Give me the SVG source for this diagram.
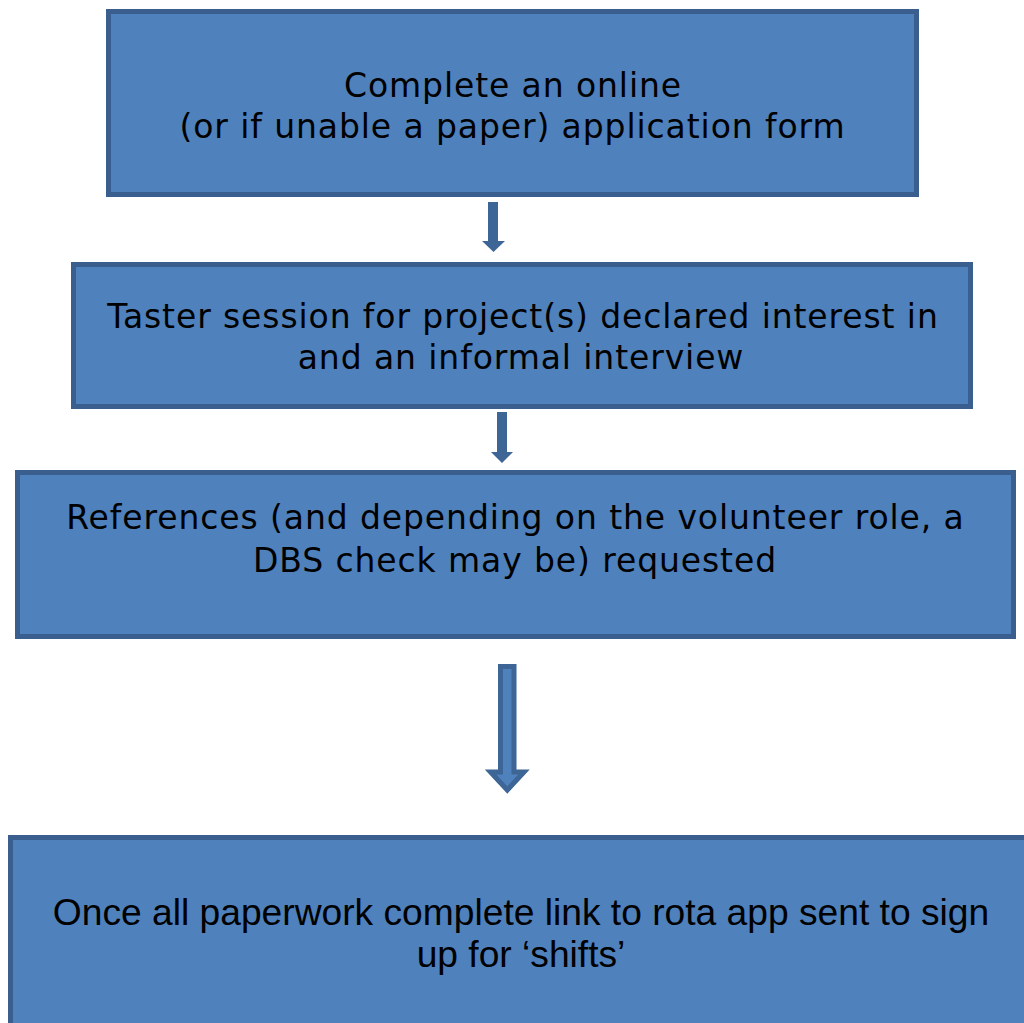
<svg xmlns="http://www.w3.org/2000/svg" width="1024" height="1023" viewBox="0 0 1024 1023">
<style>
.box{fill:#4f81bd;stroke:#3a5f8e;stroke-width:5}
.t{font-family:"DejaVu Sans",Verdana,sans-serif;font-size:33px;letter-spacing:0.9px;fill:#000;text-anchor:middle}
.a{font-family:"Liberation Sans",Arial,sans-serif;font-size:37.2px;fill:#000;text-anchor:middle}
.arr{fill:#3d6596}
.arr2{fill:#4f81bd;stroke:#3d6596;stroke-width:5}
</style>
<rect width="1024" height="1023" fill="#fff"/>
<g id="node1">
<rect class="box" x="108.5" y="11.5" width="808" height="183"/>
<text class="t" x="513" y="97">Complete an online</text>
<text class="t" x="512.5" y="138">(or if unable a paper) application form</text>
</g>
<g id="node2">
<rect class="box" x="73.5" y="264.5" width="897" height="142"/>
<text class="t" x="523" y="328">Taster session for project(s) declared interest in</text>
<text class="t" x="521" y="369">and an informal interview</text>
</g>
<g id="node3">
<rect class="box" x="17.5" y="472.5" width="996" height="164"/>
<text class="t" x="515.5" y="529">References (and depending on the volunteer role, a</text>
<text class="t" x="515" y="572">DBS check may be) requested</text>
</g>
<g id="node4">
<rect class="box" x="10.5" y="837.5" width="1030" height="200"/>
<text class="a" x="521" y="925">Once all paperwork complete link to rota app sent to sign</text>
<text class="a" x="521" y="967">up for ‘shifts’</text>
</g>
<g id="connectors">
<polygon class="arr" points="488,202 498,202 498,241 505,241 493.5,252 482,241 488,241"/>
<polygon class="arr" points="497,412 507,412 507,452 513,452 502,463 491,452 497,452"/>
<polygon class="arr2" points="500.5,666.5 514,666.5 514,772 524,772 507.3,790 490.5,772 500.5,772"/>
</g>
</svg>
